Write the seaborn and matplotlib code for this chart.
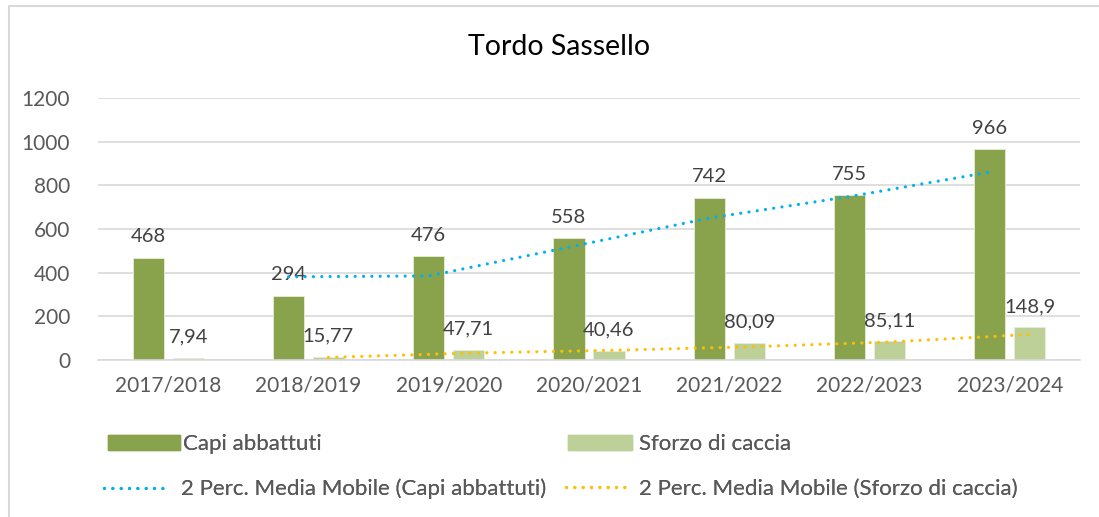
import pandas as pd
import seaborn as sns
import matplotlib.pyplot as plt
from matplotlib.lines import Line2D
from matplotlib.patches import Patch

# Data
stagioni = ["2017/2018", "2018/2019", "2019/2020", "2020/2021",
            "2021/2022", "2022/2023", "2023/2024"]
capi_abbattuti = [468, 294, 476, 558, 742, 755, 966]
sforzo_caccia = [7.94, 15.77, 47.71, 40.46, 80.09, 85.11, 148.9]
# 2-period moving averages (from season 2 onward)
mm_capi = [381, 385, 517, 650, 748.5, 860.5]
mm_sforzo = [11.855, 31.74, 44.085, 60.275, 82.6, 117.005]

serie_nomi = ["Capi abbattuti", "Sforzo di caccia"]
mm_nomi = ["2 Perc. Media Mobile (Capi abbattuti)", "2 Perc. Media Mobile (Sforzo di caccia)"]
colori = ["#88A34C", "#BCD098"]
colori_mm = ["#00B0F0", "#FFC000"]

df = pd.DataFrame({
    "stagione": stagioni * 2,
    "valore": capi_abbattuti + sforzo_caccia,
    "serie": [serie_nomi[0]] * len(stagioni) + [serie_nomi[1]] * len(stagioni),
})

sns.set_theme(style="white")
plt.rcParams["font.family"] = ["Lato", "DejaVu Sans"]

fig = plt.figure(figsize=(10.99, 5.17), dpi=100)
ax = fig.add_axes([98 / 1099, 1 - 360 / 517, (1080 - 98) / 1099, (360 - 98) / 517])

sns.barplot(data=df, x="stagione", y="valore", hue="serie", palette=colori,
            saturation=1, width=0.57, gap=0.22, ax=ax, legend=False,
            edgecolor="#E6EDD8", linewidth=0.6)

# data labels with Italian decimal comma
for container, valori in zip(ax.containers, [capi_abbattuti, sforzo_caccia]):
    etichette = [f"{v:g}".replace(".", ",") for v in valori]
    ax.bar_label(container, labels=etichette, padding=9, fontsize=14.5, color="#404040")

# moving-average trendlines drawn at the bar centres of each series
dotted = (0, (0.01, 2.6))
for container, mm, col in zip(ax.containers, [mm_capi, mm_sforzo], colori_mm):
    centri = [p.get_x() + p.get_width() / 2 for p in container.patches][1:]
    ax.plot(centri, mm, color=col, linewidth=2.3, linestyle=dotted,
            dash_capstyle="round", zorder=3)

ax.set_ylim(0, 1200)
ax.set_yticks(range(0, 1201, 200))
ax.set_xlim(-0.5, len(stagioni) - 0.5)
ax.yaxis.grid(True, color="#D9D9D9", linewidth=1.2)
ax.set_axisbelow(True)
for s in ["top", "right", "left"]:
    ax.spines[s].set_visible(False)
ax.spines["bottom"].set_color("#D9D9D9")
ax.spines["bottom"].set_linewidth(1.2)
ax.tick_params(axis="both", length=0, labelsize=15, colors="#595959")
ax.tick_params(axis="x", pad=11)
ax.tick_params(axis="y", pad=20)
ax.set_xlabel("")
ax.set_ylabel("")

fig.text(559 / 1099, 1 - 47 / 517, "Tordo Sassello", ha="center", va="center",
         fontsize=20.5, color="#000000")

# legend: one entry per slot, two rows and two columns
voci = [
    (Patch(color=colori[0], label=serie_nomi[0]), 108, 444, 3.25, 0.14),
    (Patch(color=colori[1], label=serie_nomi[1]), 568, 444, 2.9, 0.3),
    (Line2D([], [], color=colori_mm[0], lw=2.3, linestyle=dotted, dash_capstyle="round",
            label=mm_nomi[0]), 104, 489, 2.95, 0.5),
    (Line2D([], [], color=colori_mm[1], lw=2.3, linestyle=dotted, dash_capstyle="round",
            label=mm_nomi[1]), 566, 489, 2.8, 0.5),
]
for handle, x, y, hl, tp in voci:
    leg = fig.legend(handles=[handle], loc="center left", bbox_to_anchor=(x / 1099, 1 - y / 517),
                     frameon=False, fontsize=16, labelcolor="#595959", handlelength=hl,
                     handleheight=0.65, handletextpad=tp, borderpad=0, borderaxespad=0)
    fig.add_artist(leg)

# chart area border (top and left visible)
fig.add_artist(Line2D([9 / 1099, 9 / 1099, 1.0], [0, 1 - 6 / 517, 1 - 6 / 517],
                      color="#D9D9D9", linewidth=1.5))

fig.savefig("out.png", dpi=100, facecolor="white")
